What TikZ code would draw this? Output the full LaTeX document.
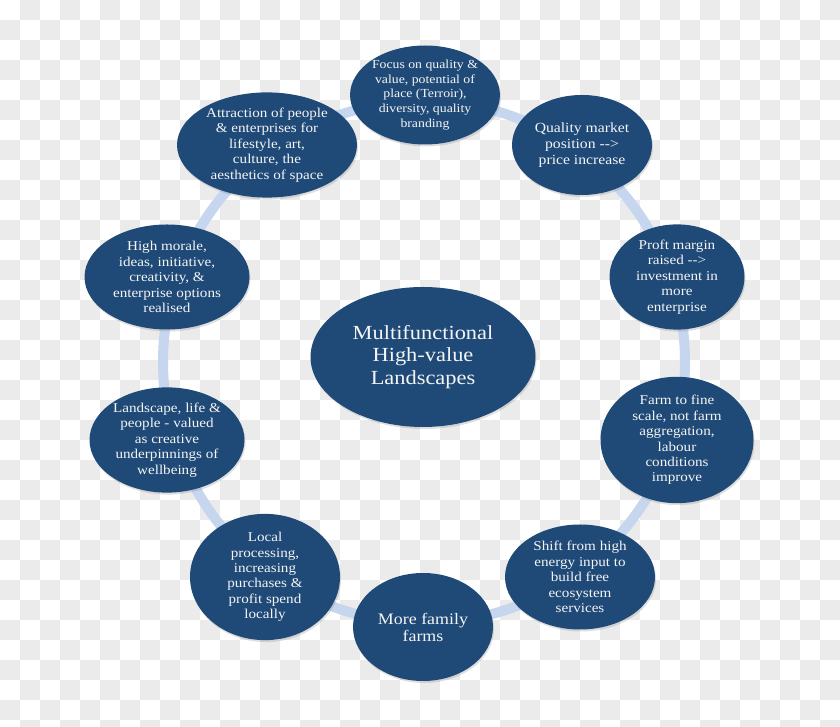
\documentclass[tikz,border=0pt]{standalone}
\usepackage{fontspec}
\setmainfont[FakeStretch=1.12]{Liberation Serif}
\usetikzlibrary{shapes.geometric,shadows}
\definecolor{chk}{HTML}{EBEBEB}
\definecolor{ringblue}{HTML}{C5D6EE}
\definecolor{nodeblue}{HTML}{1F4A78}
\definecolor{txt}{HTML}{F4F4F4}
\tikzset{
  bubble/.style={ellipse, fill=nodeblue, text=txt, inner sep=0pt, align=center,
    drop shadow={opacity=0.25, shadow xshift=1pt, shadow yshift=-2pt}},
}
\begin{document}
\begin{tikzpicture}[x=1pt,y=1pt]
\useasboundingbox (0,0) rectangle (840,727);
\begin{scope}
\clip (0,0) rectangle (840,727);
\fill[white] (0,0) rectangle (840,727);
\foreach \i in {0,...,41}{
  \foreach \j in {0,...,36}{
    \pgfmathtruncatemacro{\odd}{mod(\i+\j,2)}
    \ifnum\odd=1
      \fill[chk] ({20*\i},{727-20*\j-20}) rectangle ({20*\i+20},{727-20*\j});
    \fi
  }
}
\end{scope}
\coordinate (ringc) at (424,365);
\draw[ringblue, line width=10pt] (ringc) circle[radius=261];

\node[bubble, minimum width=146pt, minimum height=92pt, font=\fontsize{12.3}{14.7}\selectfont] (n1) at (425,632)
 {Focus on quality \&\\value, potential of\\place (Terroir),\\diversity, quality\\branding};
\node[bubble, minimum width=140pt, minimum height=100pt, font=\fontsize{14}{16}\selectfont] (n2) at (582,582)
 {Quality market\\position -{}-{}>\\price increase};
\node[bubble, minimum width=135pt, minimum height=100pt, font=\fontsize{13.5}{15.5}\selectfont] (n3) at (677,450)
 {Proft margin\\raised -{}-{}>\\investment in\\more\\enterprise};
\node[bubble, minimum width=153pt, minimum height=110pt, font=\fontsize{13.5}{15.4}\selectfont] (n4) at (677,287)
 {Farm to fine\\scale, not farm\\aggregation,\\labour\\conditions\\improve};
\node[bubble, minimum width=150pt, minimum height=105pt, font=\fontsize{13.5}{15.5}\selectfont] (n5) at (580,150)
 {Shift from high\\energy input to\\build free\\ecosystem\\services};
\node[bubble, minimum width=140pt, minimum height=108pt, font=\fontsize{16}{17}\selectfont] (n6) at (423,100)
 {More family\\farms};
\node[bubble, minimum width=150pt, minimum height=105pt, font=\fontsize{13.5}{15.4}\selectfont] (n7) at (265,150)
 {Local\\processing,\\increasing\\purchases \&\\profit spend\\locally};
\node[bubble, minimum width=155pt, minimum height=105pt, font=\fontsize{13.5}{15.5}\selectfont] (n8) at (167,287)
 {Landscape, life \&\\people - valued\\as creative\\underpinnings of\\wellbeing};
\node[bubble, minimum width=165pt, minimum height=105pt, font=\fontsize{13.5}{15.5}\selectfont] (n9) at (167,450)
 {High morale,\\ideas, initiative,\\creativity, \&\\enterprise options\\realised};
\node[bubble, minimum width=180pt, minimum height=100pt, font=\fontsize{13.5}{15.5}\selectfont] (n10) at (267,582)
 {Attraction of people\\\& enterprises for\\lifestyle, art,\\culture, the\\aesthetics of space};
\node[bubble, minimum width=225pt, minimum height=140pt, font=\fontsize{20}{22.5}\selectfont] (c) at (423,370)
 {Multifunctional\\High-value\\Landscapes};
\end{tikzpicture}
\end{document}
